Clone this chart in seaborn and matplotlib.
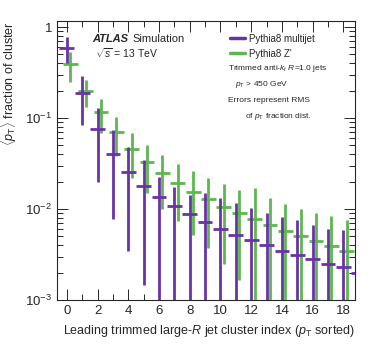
import matplotlib
matplotlib.use("Agg")
import matplotlib.pyplot as plt
import seaborn as sns
import numpy as np
import pandas as pd
from matplotlib.ticker import LogLocator, MultipleLocator, FixedLocator

# cluster index
index = list(range(20))

# Pythia8 multijet: mean, upper edge, lower edge of RMS band
multijet = [0.59, 0.187, 0.075, 0.040, 0.0255, 0.0179, 0.0137, 0.0108, 0.0088, 0.0073,
            0.0061, 0.0052, 0.0046, 0.0040, 0.0035, 0.0031, 0.0028, 0.0025, 0.0023, 0.0020]
multijet_hi = [0.78, 0.29, 0.128, 0.074, 0.048, 0.0345, 0.0226, 0.0173, 0.0143, 0.0152,
               0.0131, 0.0116, 0.0103, 0.0091, 0.0081, 0.0076, 0.0067, 0.0061, 0.0059, 0.0050]
multijet_lo = [0.40, 0.084, 0.020, 0.0077, 0.0035, 0.00146, 1e-4, 1e-4, 1e-4, 1e-4,
               1e-4, 1e-4, 1e-4, 1e-4, 1e-4, 1e-4, 1e-4, 1e-4, 1e-4, 1e-4]

# Pythia8 Z'
zprime = [0.39, 0.20, 0.117, 0.070, 0.046, 0.0326, 0.0247, 0.0195, 0.0155, 0.0129,
          0.0106, 0.0090, 0.0078, 0.0067, 0.0058, 0.0050, 0.0045, 0.0039, 0.0035, 0.0031]
zprime_hi = [0.53, 0.26, 0.16, 0.103, 0.068, 0.050, 0.039, 0.031, 0.026, 0.0217,
             0.0187, 0.0162, 0.0169, 0.0131, 0.0113, 0.0100, 0.0090, 0.0084, 0.0076, 0.0068]
zprime_lo = [0.25, 0.133, 0.068, 0.038, 0.022, 0.0151, 0.0100, 0.0074, 0.0052, 0.0037,
             0.0025, 0.00166, 1e-4, 1e-4, 1e-4, 1e-4, 1e-4, 1e-4, 1e-4, 1e-4]

purple = "#6a32a8"
green = "#5cb84e"

sns.set_style("ticks")
plt.rcParams["font.family"] = ["Liberation Sans", "DejaVu Sans"]
plt.rcParams["mathtext.fontset"] = "custom"
plt.rcParams["mathtext.rm"] = "Liberation Sans"
plt.rcParams["mathtext.it"] = "Liberation Sans:italic"
plt.rcParams["mathtext.bf"] = "Liberation Sans:bold"

fig = plt.figure(figsize=(3.74, 3.59), dpi=100)
ax = fig.add_axes([0.152, 0.164, 0.797, 0.778])

df = pd.DataFrame({
    "index": index * 2,
    "frac": multijet + zprime,
    "sample": ["Pythia8 multijet"] * 20 + ["Pythia8 Z'"] * 20,
})
df["x"] = df["index"] + np.where(df["sample"] == "Pythia8 Z'", 0.22, 0.0)

for name, col, mean, hi, lo in [("Pythia8 Z'", green, zprime, zprime_hi, zprime_lo),
                                ("Pythia8 multijet", purple, multijet, multijet_hi, multijet_lo)]:
    sub = df[df["sample"] == name]
    x = sub["x"].to_numpy()
    m = np.array(mean)
    ax.errorbar(x, m, yerr=[m - np.array(lo), np.array(hi) - m], xerr=0.48,
                fmt="none", ecolor=col, elinewidth=2.0, capsize=0, zorder=3)

ax.set_yscale("log")
ax.set_ylim(1e-3, 1.17)
ax.set_xlim(-0.65, 18.75)

ax.xaxis.set_major_locator(MultipleLocator(2))
ax.xaxis.set_minor_locator(MultipleLocator(1))
ax.yaxis.set_major_locator(FixedLocator([1e-3, 1e-2, 1e-1, 1]))
ax.yaxis.set_minor_locator(LogLocator(base=10, subs=np.arange(2, 10)))
ax.set_yticklabels([r"$10^{-3}$", r"$10^{-2}$", r"$10^{-1}$", "1"])
ax.tick_params(which="both", direction="in", top=True, right=True, labelsize=9.5, width=0.7)
ax.tick_params(which="major", length=8)
ax.tick_params(which="minor", length=4)
for s in ax.spines.values():
    s.set_linewidth(0.8)

ax.set_xlabel(r"Leading trimmed large-$\mathit{R}$ jet cluster index ($\mathit{p}_{\mathrm{T}}$ sorted)",
              fontsize=9, loc="right")
ax.set_ylabel(r"$\langle\mathit{p}_{\mathrm{T}}\rangle$ fraction of cluster", fontsize=9, loc="top")

ax.text(0.12, 0.935, "ATLAS", transform=ax.transAxes, fontsize=8, fontweight="bold",
        fontstyle="italic", va="center")
ax.text(0.255, 0.935, "Simulation", transform=ax.transAxes, fontsize=8, va="center")
ax.text(0.127, 0.885, r"$\sqrt{s}$ = 13 TeV", transform=ax.transAxes, fontsize=7.5, va="center")

ax.plot([], [], color=purple, lw=2.5, label="Pythia8 multijet")
ax.plot([], [], color=green, lw=2.5, label="Pythia8 Z'")
ax.legend(loc="upper left", bbox_to_anchor=(0.55, 0.985), frameon=False, fontsize=7,
          handlelength=1.6, handletextpad=0.4, labelspacing=0.5)

ax.text(0.574, 0.828, r"Trimmed anti-$\mathit{k}_{t}$ $\mathit{R}$=1.0 jets", transform=ax.transAxes,
        fontsize=6, va="center")
ax.text(0.597, 0.771, r"$\mathit{p}_{\mathrm{T}}$ > 450 GeV", transform=ax.transAxes, fontsize=6, va="center")
ax.text(0.574, 0.713, "Errors represent RMS", transform=ax.transAxes, fontsize=6, va="center")
ax.text(0.631, 0.656, r"of $\mathit{p}_{\mathrm{T}}$ fraction dist.", transform=ax.transAxes,
        fontsize=6, va="center")

fig.savefig("out.png", dpi=100)
